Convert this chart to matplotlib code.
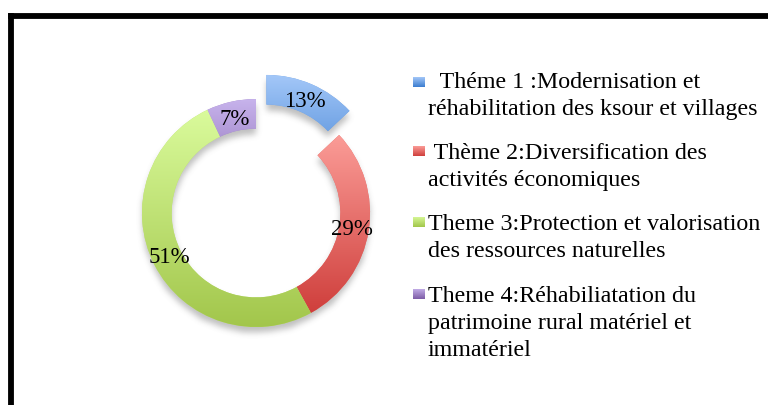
import numpy as np
import matplotlib
matplotlib.use('Agg')
import matplotlib.pyplot as plt
from matplotlib.colors import LinearSegmentedColormap
from matplotlib.lines import Line2D

plt.rcParams['font.family'] = ['Liberation Serif', 'DejaVu Serif']

# share of projects per theme (%)
shares = [13, 29, 51, 7]
legend_labels = [
    '  Théme 1 :Modernisation et\nréhabilitation des ksour et villages',
    ' Thème 2:Diversification des\nactivités économiques',
    'Theme 3:Protection et valorisation\ndes ressources naturelles',
    'Theme 4:Réhabiliatation du\npatrimoine rural matériel et\nimmatériel',
]
explode = [0.23, 0, 0, 0]
# light top / dark bottom of each slice gradient
tops = ['#a3c7f8', '#fb9c97', '#dafb9c', '#c7b3ec']
bottoms = ['#3b7dd0', '#cf3f3c', '#a2c64b', '#7d5ca6']

W, H = 768, 406
fig = plt.figure(figsize=(W / 100, H / 100), dpi=100)

# donut axes, placed in pixels
R_PX = 114
cx, cy = 256, 214
half = 140
ax = fig.add_axes([(cx - half) / W, (H - cy - half) / H, 2 * half / W, 2 * half / H])

wedges, texts, autotexts = ax.pie(
    shares, explode=explode, startangle=90, counterclock=False, radius=1,
    autopct=lambda p: f'{p:.0f}%', pctdistance=0.85,
    wedgeprops=dict(width=0.26, linewidth=0),
    textprops=dict(fontsize=16.5, color='black'))
lim = half / R_PX
ax.axis('off')

# vertical gradient inside each slice
grad = np.linspace(0, 1, 256).reshape(-1, 1)
for w, t, b in zip(wedges, tops, bottoms):
    path = w.get_patch_transform().transform_path(w.get_path())
    x0, y0 = path.vertices.min(axis=0)
    x1, y1 = path.vertices.max(axis=0)
    cmap = LinearSegmentedColormap.from_list('g', [t, b])
    w.set_facecolor(cmap(0.5))
    w.set_zorder(2)
    im = ax.imshow(grad, cmap=cmap, extent=(x0, x1, y0, y1), origin='upper',
                   aspect='auto', zorder=3, interpolation='bilinear')
    im.set_clip_path(w)
for t in autotexts:
    t.set_zorder(5)

# soft drop shadow under the ring
n = 420
gx = np.linspace(-lim, lim, n)
X, Y = np.meshgrid(gx, gx[::-1])
pts = np.column_stack([X.ravel(), Y.ravel() + 0.05])
mask = np.zeros(n * n)
for w in wedges:
    p = w.get_patch_transform().transform_path(w.get_path())
    mask = np.maximum(mask, p.contains_points(pts))
mask = mask.reshape(n, n)
k = np.ones(9) / 9
for _ in range(3):
    mask = np.apply_along_axis(lambda r: np.convolve(r, k, mode='same'), 0, mask)
    mask = np.apply_along_axis(lambda r: np.convolve(r, k, mode='same'), 1, mask)
shadow = np.zeros((n, n, 4))
shadow[..., :3] = 0.45
shadow[..., 3] = mask * 0.45
ax.imshow(shadow, extent=(-lim, lim, -lim, lim), zorder=1, aspect='auto')
ax.set_xlim(-lim, lim)
ax.set_ylim(-lim, lim)

# legend drawn by hand
sq_cy = [83, 152, 223, 295]
first_base = [88, 159, 230, 302]
line_gap = 27
for i, lab in enumerate(legend_labels):
    cmap = LinearSegmentedColormap.from_list('g', [tops[i], bottoms[i]])
    sax = fig.add_axes([413 / W, (H - sq_cy[i] - 5) / H, 12 / W, 10 / H])
    sax.imshow(grad, cmap=cmap, aspect='auto', interpolation='bilinear')
    sax.axis('off')
    for j, line in enumerate(lab.split('\n')):
        fig.text(428 / W, (H - first_base[i] - j * line_gap) / H, line,
                 fontsize=17.3, va='baseline', ha='left')

# frame edges
fig.add_artist(Line2D([11 / W, 1], [(H - 17) / H, (H - 17) / H], color='black', lw=4.2,
                      transform=fig.transFigure, solid_capstyle='projecting'))
fig.add_artist(Line2D([11 / W, 11 / W], [(H - 17) / H, 0], color='black', lw=4.2,
                      transform=fig.transFigure, solid_capstyle='projecting'))

fig.savefig('out.png', dpi=100)
